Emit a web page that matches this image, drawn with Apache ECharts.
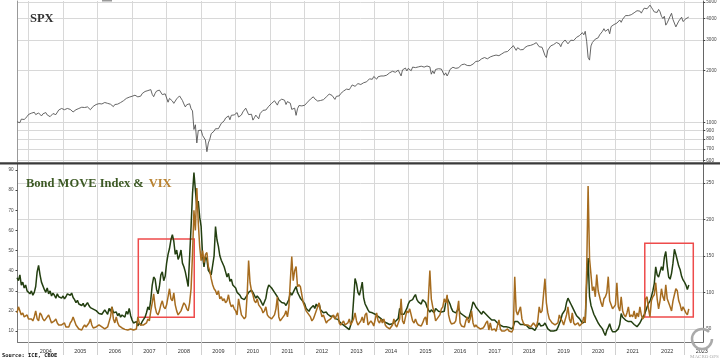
<!DOCTYPE html>
<html><head><meta charset="utf-8">
<script src="https://cdn.jsdelivr.net/npm/echarts@6/dist/echarts.min.js"></script>
<style>html,body{margin:0;padding:0;background:#fff}#c{width:720px;height:361px}</style>
</head><body><div id="c"></div>
<script>
// Semi-monthly samples (1st and 16th of each month) starting Sep 2003
const startYear = 2003 + 8/12;

const spx = [
1008,1025,996,1045,1051,1040,1058,1080,
1112,1140,1131,1150,1145,1110,1126,1135,1107,1090,1121,1133,1141,1105,1102,1080,1104,1125,1115,1110,1130,1180,1174,1205,
1212,1185,1181,1205,1204,1190,1181,1150,1157,1185,1192,1205,1191,1225,1234,1220,1220,1230,1229,1185,1207,1240,1249,1270,
1248,1285,1280,1280,1281,1305,1295,1290,1311,1275,1270,1235,1270,1240,1277,1300,1304,1320,1336,1365,1378,1397,1401,1425,
1418,1430,1438,1455,1407,1390,1421,1470,1482,1512,1531,1530,1503,1550,1455,1410,1474,1520,1527,1540,1549,1450,1481,1465,
1468,1310,1379,1350,1331,1290,1323,1370,1386,1425,1400,1340,1280,1230,1267,1300,1283,1200,1166,910,969,760,896,890,
903,840,826,790,676,760,798,860,873,890,919,920,919,940,987,1000,1021,1060,1057,1090,1036,1100,1096,1105,
1115,1140,1074,1095,1104,1150,1169,1210,1187,1110,1089,1115,1031,1065,1102,1080,1049,1125,1141,1175,1183,1180,1181,1240,
1258,1290,1286,1335,1327,1260,1326,1320,1364,1330,1345,1270,1321,1310,1292,1190,1219,1210,1099,1200,1253,1230,1247,1220,
1258,1290,1312,1345,1366,1400,1408,1370,1398,1330,1310,1340,1362,1355,1379,1405,1407,1460,1441,1435,1412,1360,1416,1430,
1426,1470,1498,1520,1515,1560,1569,1550,1598,1650,1631,1620,1606,1680,1686,1660,1633,1700,1682,1720,1757,1790,1806,1780,
1848,1840,1783,1840,1859,1860,1872,1860,1884,1880,1924,1940,1960,1980,1931,1955,2003,2010,1972,1862,2018,2040,2068,1990,
2059,2020,1995,2095,2105,2080,2068,2100,2086,2120,2107,2095,2063,2125,2104,2100,1905,1990,1920,2030,2079,2050,2080,2040,
2044,1880,1940,1860,1932,2030,2060,2090,2065,2060,2097,2075,2099,2160,2174,2180,2171,2140,2168,2135,2126,2180,2199,2260,
2239,2270,2279,2340,2364,2380,2363,2340,2384,2400,2412,2435,2423,2460,2470,2440,2472,2500,2519,2560,2575,2580,2648,2680,
2674,2790,2824,2620,2714,2750,2641,2700,2648,2720,2705,2780,2718,2800,2816,2840,2902,2905,2914,2750,2712,2730,2760,2450,
2380,2630,2704,2780,2784,2830,2834,2910,2946,2860,2752,2890,2942,3010,2980,2860,2926,3000,2977,2990,3038,3120,3141,3190,
3231,3320,3226,3380,2954,2386,2300,2780,2912,2860,3044,3120,3100,3220,3271,3380,3500,3380,3363,3480,3270,3600,3622,3700,
3756,3770,3714,3930,3811,3970,3973,4170,4181,4170,4204,4220,4298,4330,4395,4450,4523,4430,4308,4470,4605,4700,4567,4670,
4796,4660,4516,4380,4374,4350,4530,4390,4132,4010,4132,3670,3785,3860,4130,4300,3955,3870,3586,3660,3872,3960,4080,3850,
3840,4000,4077,4090
];

const move = [
120,116,124,110,114,106,110,102,
104,98,102,96,100,108,128,137,124,114,112,104,100,106,98,102,95,99,96,92,98,94,96,92,
95,91,94,98,100,96,99,93,90,86,89,84,86,82,85,80,83,86,82,79,80,77,78,75,
74,71,73,70,72,76,73,70,78,74,80,72,70,73,68,71,66,69,70,66,74,70,78,68,
62,58,56,60,54,58,55,60,62,66,72,80,76,90,110,121,118,104,98,108,124,128,116,122,
140,152,160,172,179,170,152,158,145,150,158,140,135,128,118,108,106,190,235,264,240,217,225,203,
190,150,135,149,145,130,130,124,126,150,190,172,163,150,144,146,135,128,121,126,115,118,110,112,
106,100,98,96,92,94,90,88,96,100,98,103,100,96,92,95,94,90,86,82,80,92,104,110,
112,106,104,100,98,94,90,88,86,84,85,82,86,90,100,96,98,104,108,100,96,92,90,87,
84,78,76,74,78,80,82,78,84,80,85,76,74,72,71,73,70,68,67,66,68,64,66,63,
62,58,57,55,54,52,50,49,48,62,90,119,112,100,96,104,114,92,84,80,76,73,75,72,
72,70,69,67,66,64,62,60,59,58,57,56,58,57,59,60,62,64,78,70,68,70,74,78,
84,88,86,90,94,97,90,87,88,84,90,92,86,80,76,73,76,74,72,78,76,74,76,73,
71,74,86,92,90,84,78,74,73,72,74,78,72,70,69,67,66,65,64,66,78,87,84,80,
78,75,73,70,74,72,70,68,66,64,62,60,62,60,58,57,55,54,53,52,53,51,52,51,
50,53,60,62,60,58,56,54,56,58,55,53,51,50,51,49,48,50,55,58,54,52,55,58,
54,50,48,47,49,47,46,48,52,57,62,70,72,76,86,92,88,84,80,76,72,68,66,64,
62,58,57,60,110,147,94,82,76,70,66,62,58,55,53,50,45,41,48,52,57,50,46,44,
46,48,50,56,71,66,64,62,64,60,62,60,58,56,54,53,55,58,62,66,69,74,80,85,
88,94,102,112,135,124,121,128,135,130,148,156,136,121,118,126,140,159,152,144,136,131,122,117,
114,110,104,110
];

const vix = [
19,22,20,18,19,17,17,18,
16,15.5,16,15,17,20,16,15,19,18,16,15,15,17,18,16,14,13.5,15,16,14,13,12.5,13,
13,14,12,11.5,12,14,15,17,15,13,12,11,11,10.5,12,13,12,12.5,14,16,13,11.5,11,12,
12,13,12.5,12,11.5,11,11.5,12,12,17,22,16,14,17,14,12.5,12,11.5,11,10.8,11,10.5,10.5,11,
11,10.5,10.5,11,17,14,13,12.5,13,13.5,14,16,15,20,24,28.5,22,19,18,20,23,25,22,21,
23,27,31,26,25,29,23,20,18,19,20,22,24,23,21,20,24,31,48,70,60,81,64,52,
45,50,44,48,49,42,40,36,33,31,30,28,30,26,27,25,26,24,25,28,24,22,23,21,
20,18,26,22,18,17,16,17,28,45,34,30,28,25,24,26,23,22,21,19,20,22,18,17,
17,16,17,18,21,27,17,15,16,17,18,20,17,22,35,47,35,40,42,32,33,32,28,24,
22,20,19,18,17,15,16,18,18,22,24,20,17,18,16,14,15,14.5,16,17,18,16,16,19,
14,13,13,15,13,12.5,14,16,13,13,16,19,15,13,13,15,17,14,18,19,13,12.5,15,14,
12.5,13,19,15,14,16,14,16,13,12,11.5,11,11,13,16,13,12,14,16,26,15,13.5,14,20,
19,21,18,15,14,16,14,13,13,12.5,14,16,17,13,12.5,40,26,22,19,15,15,17,18,21,
22,26,24,28,18,15,13.5,14,14,15,15,25,14,12.5,12,12,15,17,14,16,20,14,12,13,
12,11.5,11,11.5,11.5,12.5,14,15,10.5,14,10.5,10,11,9.8,10.5,15.5,11,10,10,10,9.8,11,10,9.8,
9.5,11,37,20,18,20,22,16,14,13,12.5,13,13,12,13,14,13,12,15,22,19,20,20,36,
24,19,16,15,14,13.5,13,12.5,14,18,16,15,13,12.5,18,22,16,14,19,14,13,12.5,14,12.5,
13,14,17,14,40,82,46,38,30,32,27,38,30,27,24,22,26,27,29,37,25,23,21,22,
23,34,22,20,27,20,18,17,19,22,17,18,17,20,16,19,17,22,18,16,17,26,27,21,
17,25,27,28,34,26,21,25,31,27,25,33,26,24,22,20,25,28,31,30,25,23,20,22,
22,19,18,21
];

const yearTicks = [2004,2005,2006,2007,2008,2009,2010,2011,2012,2013,2014,2015,2016,2017,2018,2019,2020,2021,2022,2023];
const spxTicks = [600,700,800,900,1000,2000,3000,4000,5000];
const vixTicks = [10,20,30,40,50,60,70,80,90];
const moveTicks = [50,100,150,200,250];
// highlighted periods: [startYear, vixTop, endYear, vixBottom]
const boxes = [[2007.18,55.7,2008.80,16.8],[2021.85,53.6,2023.255,17.0]];

const pairs = arr => arr.map((v,i)=>[startYear + i/24, v]);
const xMin = 2003.681, xMax = 2023.545;
const gridL = 17.5, gridR = 16.7;
const tickFont = {fontSize:4.6, color:'#444', fontFamily:'Liberation Sans'};

const chart = echarts.init(document.getElementById('c'), null, {renderer:'canvas'});
chart.setOption({
  animation:false,
  backgroundColor:'#fff',
  title:[
    {text:'SPX', left:30, top:12, padding:0, textStyle:{fontFamily:'Liberation Serif', fontWeight:'bold', fontSize:12.5, color:'#333'}},
    {text:'{g|Bond MOVE Index &} {o|VIX}', left:26, top:175, padding:0, textStyle:{rich:{
      g:{fontFamily:'Liberation Serif', fontWeight:'bold', fontSize:12.5, color:'#3d5a25'},
      o:{fontFamily:'Liberation Serif', fontWeight:'bold', fontSize:12.5, color:'#b8812f'}}}}
  ],
  grid:[
    {left:gridL, right:gridR, top:1, height:161, containLabel:false, outerBoundsMode:'none'},
    {left:gridL, right:gridR, top:164, height:178, containLabel:false, outerBoundsMode:'none'}
  ],
  xAxis:[
    {type:'value', gridIndex:0, min:xMin, max:xMax,
     axisLine:{show:false}, axisLabel:{show:false},
     axisTick:{show:false, customValues:yearTicks},
     splitLine:{show:true, lineStyle:{color:'#d8d8d8', width:1}}},
    {type:'value', gridIndex:1, min:xMin, max:xMax,
     axisLine:{show:true, lineStyle:{color:'#777', width:1}},
     axisTick:{show:true, customValues:yearTicks, length:13, lineStyle:{color:'#d0d0d0'}},
     axisLabel:{customValues:yearTicks.map(y=>y+0.5), formatter:v=>String(Math.floor(v)), margin:6, fontSize:5.5, color:'#333', fontFamily:'Liberation Sans',
       showMinLabel:true, showMaxLabel:true, hideOverlap:false},
     splitLine:{show:true, lineStyle:{color:'#d8d8d8', width:1}}}
  ],
  yAxis:[
    {type:'log', gridIndex:0, position:'right', min:589, max:5068, logBase:10,
     name:'USD', nameLocation:'middle', nameRotate:-90, nameGap:11, nameTextStyle:{fontSize:5, color:'#888'},
     axisLine:{show:true, lineStyle:{color:'#666'}},
     axisTick:{show:true, customValues:spxTicks, length:2, lineStyle:{color:'#444'}},
     axisLabel:{customValues:spxTicks, formatter:v=>String(Math.round(v)), margin:3, ...tickFont},
     splitLine:{show:true, lineStyle:{color:'#d8d8d8'}}},
    {type:'value', gridIndex:0, position:'left', min:0, max:1,
     axisLine:{show:true, lineStyle:{color:'#999'}}, axisTick:{show:false}, axisLabel:{show:false}, splitLine:{show:false}},
    {type:'value', gridIndex:1, position:'left', min:4.53, max:93,
     name:'Points', nameLocation:'middle', nameRotate:90, nameGap:10, nameTextStyle:{fontSize:5, color:'#888'},
     axisLine:{show:true, lineStyle:{color:'#777'}},
     axisTick:{show:true, customValues:vixTicks, length:2, lineStyle:{color:'#444'}},
     axisLabel:{customValues:vixTicks, margin:4, ...tickFont},
     splitLine:{show:false}},
    {type:'value', gridIndex:1, position:'right', min:32, max:275.8,
     name:'Points', nameLocation:'middle', nameRotate:-90, nameGap:11, nameTextStyle:{fontSize:5, color:'#888'},
     axisLine:{show:true, lineStyle:{color:'#666'}},
     axisTick:{show:true, customValues:moveTicks, length:2, lineStyle:{color:'#444'}},
     axisLabel:{customValues:moveTicks, margin:3, ...tickFont},
     splitLine:{show:true, lineStyle:{color:'#d8d8d8'}}}
  ],
  series:[
    {name:'SPX', type:'line', xAxisIndex:0, yAxisIndex:0, data:pairs(spx), showSymbol:false, silent:true,
     lineStyle:{color:'#555', width:0.9}},
    {name:'MOVE', type:'line', xAxisIndex:1, yAxisIndex:3, data:pairs(move), showSymbol:false, silent:true,
     lineStyle:{color:'#233f10', width:1.5}},
    {name:'VIX', type:'line', xAxisIndex:1, yAxisIndex:2, data:pairs(vix), showSymbol:false, silent:true,
     lineStyle:{color:'#a66c1f', width:1.5},
     markArea:{silent:true, itemStyle:{color:'rgba(0,0,0,0)', borderColor:'#ee4b4b', borderWidth:1.5},
       data:boxes.map(b=>[{coord:[b[0],b[1]]},{coord:[b[2],b[3]]}])}}
  ],
  graphic:[
    {type:'rect', shape:{x:0, y:162.3, width:720, height:2.2}, style:{fill:'#3a3a3a'}, z:100},
    {type:'rect', shape:{x:102, y:0, width:10, height:1.5}, style:{fill:'#999'}, z:100},
    {type:'text', left:2, top:353, style:{text:'Source: ICE, CBOE', font:'bold 5.4px "DejaVu Sans Mono"', fill:'#111'}, z:100},
    {type:'arc', shape:{cx:702, cy:339, r:10, startAngle:0, endAngle:Math.PI*1.75}, style:{stroke:'#aaa', lineWidth:2.5, fill:null}, z:100},
    {type:'text', left:690, top:354, style:{text:'MACRO OPS', font:'5px "Liberation Serif"', fill:'#aaa'}, z:100}
  ]
});
</script>
</body></html>
